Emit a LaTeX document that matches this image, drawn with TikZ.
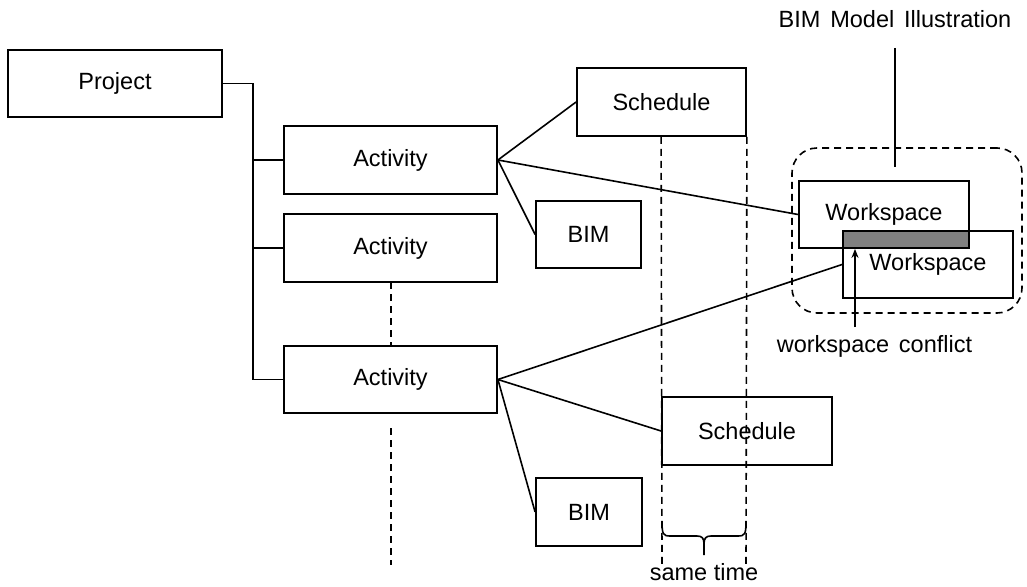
\documentclass[tikz,border=0pt]{standalone}
\usepackage{fontspec}
\setmainfont{Liberation Sans}
\usetikzlibrary{arrows.meta}
\newcommand{\wsp}{\hspace{0.42em}}
\begin{document}
\begin{tikzpicture}[x=1pt,y=-1pt,
  every node/.style={font=\fontsize{23.5}{28}\selectfont},
  box/.style={draw,line width=1.8pt,inner sep=0pt,minimum width=#1},
  box/.default=213pt,
  conn/.style={line width=1.6pt},
  dsh/.style={line width=1.6pt,dash pattern=on 7pt off 5pt},
  lbl/.style={anchor=base,inner sep=0pt}]
\useasboundingbox (0,0) rectangle (1027,586);
% main boxes
\node[box=214pt,minimum height=67pt] (project) at (115,83.5) {Project};
\node[box,minimum height=68pt] (act1) at (390.5,160) {Activity};
\node[box,minimum height=68pt] (act2) at (390.5,248) {Activity};
\node[box,minimum height=67pt] (act3) at (390.5,379.5) {Activity};
\node[box=169pt,minimum height=68pt] (sch1) at (661.5,102) {Schedule};
\node[box=170pt,minimum height=68pt] (sch2) at (747,431) {Schedule};
\node[box=105pt,minimum height=67pt] (bim1) at (588.5,234.5) {BIM};
\node[box=106pt,minimum height=68pt] (bim2) at (589,512) {BIM};
\node[box=170pt,minimum height=67pt] (ws1) at (884,214.5) {Workspace};
\node[box=170pt,minimum height=67pt] (ws2) at (928,264.5) {Workspace};
\node[draw,line width=1.8pt,fill=black!50,inner sep=0pt,minimum width=126pt,minimum height=17pt] (overlap) at (906,239.5) {};
% BIM model illustration frame
\node[draw,dsh,rounded corners=25pt,inner sep=0pt,minimum width=230pt,minimum height=165pt] (model) at (907,230.5) {};
\node[lbl] (mlabel) at (895,27.5) {BIM\wsp Model\wsp Illustration};
\draw[conn] ([yshift=-20pt]mlabel.south) -- ([yshift=-20pt]mlabel.south |- model.north);
% workspace conflict
\node[lbl] (conflict) at (874.5,352) {workspace\wsp conflict};
\coordinate (cstart) at (855,327);
\draw[conn,-{Stealth[length=9pt,width=7pt]}] (cstart) -- (cstart |- overlap.south);
% tree connectors
\coordinate (trunk) at (253,83.5);
\draw[conn] (project.east) -- (trunk) -- (trunk |- act3.west) -- (act3.west);
\draw[conn] (trunk |- act1.west) -- (act1.west);
\draw[conn] (trunk |- act2.west) -- (act2.west);
% activity dashed continuation
\coordinate (d1) at (391,282);
\coordinate (d2) at (391,346);
\coordinate (d3) at (391,428);
\coordinate (d4) at (391,565);
\draw[dsh] (d1) -- (d2);
\draw[dsh] (d3) -- (d4);
% activity links
\draw[conn] (act1.east) -- (sch1.west);
\draw[conn] (act1.east) -- (bim1.west);
\draw[conn] (act1.east) -- (ws1.west);
\draw[conn] (act3.east) -- (ws2.west);
\draw[conn] (act3.east) -- (sch2.west);
\draw[conn] (act3.east) -- (bim2.west);
% same time
\coordinate (t1) at (662,565);
\coordinate (t2) at (746,565);
\draw[dsh] (sch1.south -| sch2.west) -- (t1);
\draw[dsh] (sch1.south east) -- (t2);
\coordinate (b1) at (662,521);
\coordinate (b2) at (746,521);
\coordinate (btip) at (704,555);
\draw[conn,line join=round] (b1) .. controls (662,534) and (663,536) .. (670,536) -- (697,536)
  .. controls (702,536) and (704,538) .. (704,544) -- (btip);
\draw[conn,line join=round] (b2) .. controls (746,534) and (745,536) .. (738,536) -- (711,536)
  .. controls (706,536) and (704,538) .. (704,544);
\node[lbl] (same) at (704,580) {same time};
\end{tikzpicture}
\end{document}
